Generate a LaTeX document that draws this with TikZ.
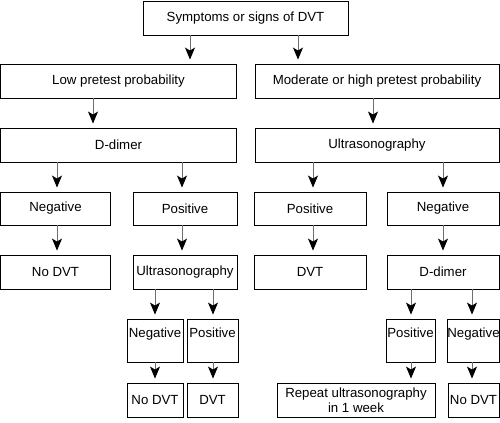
\documentclass[tikz,border=0pt]{standalone}
\usepackage{fontspec}
\setmainfont{Liberation Sans}
\usetikzlibrary{arrows.meta}
\definecolor{stemgray}{RGB}{110,110,110}

\begin{document}
\begin{tikzpicture}[x=1bp,y=-1bp,
  box/.style={draw,line width=0.9bp,inner sep=0pt,minimum height=34bp,align=center,
    font=\fontsize{13.3}{15}\selectfont},
  tall/.style={box,minimum height=43bp,text height=10bp,text depth=17bp},
  arr/.style={draw=stemgray,line width=0.9bp,shorten >=4bp,
    -{Stealth[length=12bp,width=10bp,inset=3bp,color=black,fill=black]}}]
\useasboundingbox (0,0) rectangle (500,422);
% first two rows
\node[box,minimum width=205bp] (top) at (245.5,18) {Symptoms or signs of DVT};
\node[box,minimum width=236bp] (low) at (118.5,81) {Low pretest probability};
\node[box,minimum width=244bp] (mod) at (377,81) {Moderate or high pretest probability};
\node[box,minimum width=236bp] (ddA) at (118.5,145) {D-dimer};
\node[box,minimum width=244bp] (usA) at (377,145) {Ultrasonography};
% results of first test
\node[box,minimum width=110bp,minimum height=33bp] (negA) at (55.5,208.5) {Negative};
\node[box,minimum width=104bp,minimum height=33bp] (posA) at (185,208.5) {Positive};
\node[box,minimum width=112bp,minimum height=33bp] (posB) at (310,208.5) {Positive};
\node[box,minimum width=112bp,minimum height=33bp] (negB) at (443,208.5) {Negative};
\node[box,minimum width=110bp] (noA) at (55.5,272) {No DVT};
\node[box,minimum width=104bp] (usB) at (185,272) {Ultrasonography};
\node[box,minimum width=112bp] (dvtA) at (310,272) {DVT};
\node[box,minimum width=112bp] (ddB) at (443,272) {D-dimer};
% second test
\node[tall,minimum width=56bp] (negC) at (155,340.5) {Negative};
\node[tall,minimum width=51bp] (posC) at (212.5,340.5) {Positive};
\node[tall,minimum width=49bp] (posD) at (410.5,340.5) {Positive};
\node[tall,minimum width=51bp] (negD) at (473.5,340.5) {Negative};
\node[box,minimum width=56bp] (noB) at (155,400) {No DVT};
\node[box,minimum width=51bp] (dvtB) at (212.5,400) {DVT};
\node[box,minimum width=158bp] (rep) at (356,400) {Repeat ultrasonography\\in 1 week};
\node[box,minimum width=51bp] (noC) at (473.5,400) {No DVT};
\foreach \a/\b/\x in {top/low/190,top/mod/298,low/ddA/93,mod/usA/373,
  ddA/negA/57,ddA/posA/182,usA/posB/313,usA/negB/443,
  negA/noA/57,posA/usB/182,posB/dvtA/313,negB/ddB/443,
  usB/negC/155,usB/posC/213,ddB/posD/411,ddB/negD/472,
  negC/noB/155,posC/dvtB/213,posD/rep/411,negD/noC/472}
  \draw[arr] (\a.south -| \x,0) -- (\b.north -| \x,0);
\end{tikzpicture}
\end{document}
